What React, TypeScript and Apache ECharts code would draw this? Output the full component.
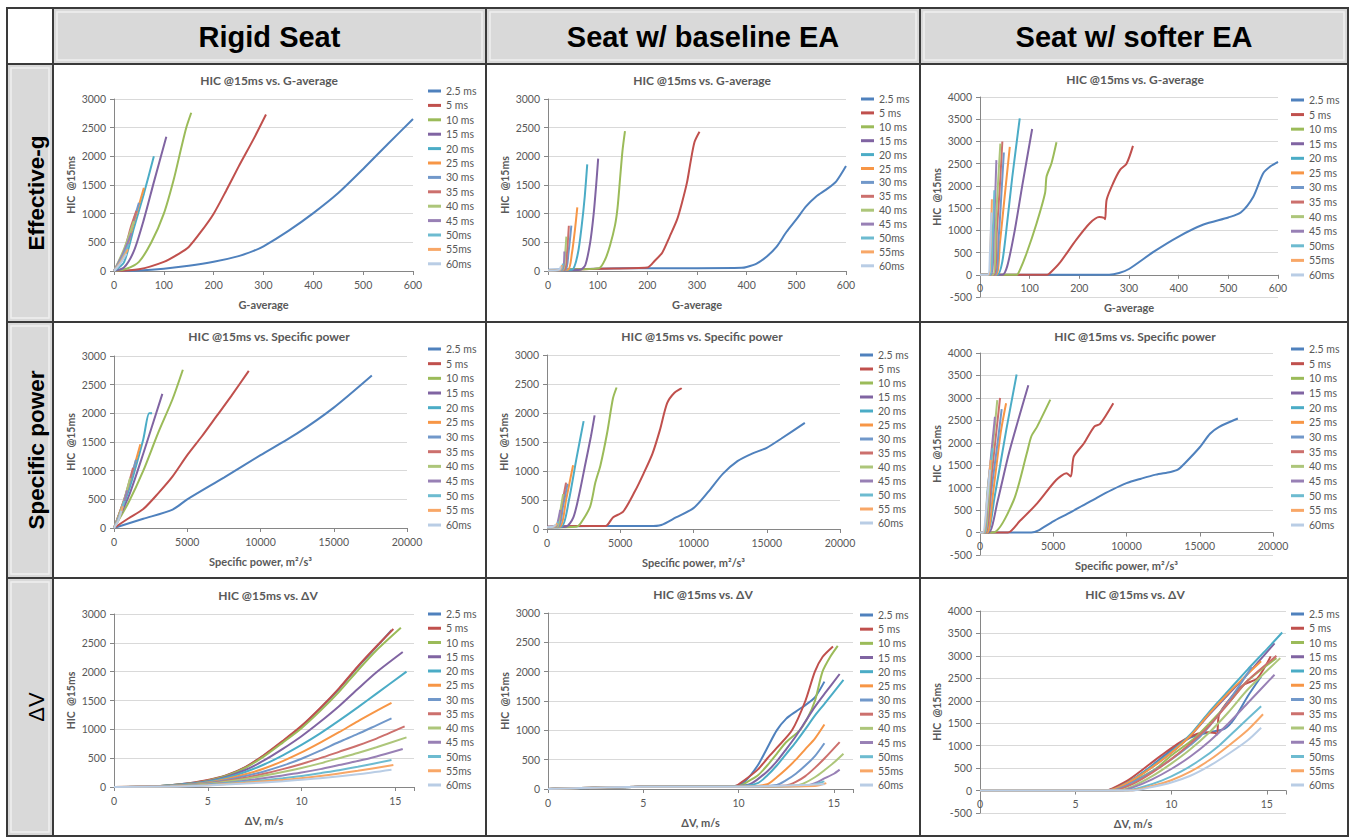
import React, { useEffect, useRef } from 'react';
import * as echarts from 'echarts';

// ---------- text / categories ----------
const columnHeaders = ['Rigid Seat', 'Seat w/ baseline EA', 'Seat w/ softer EA'];
const rowHeaders = ['Effective-g', 'Specific power', 'ΔV'];
const chartTitles = ['HIC @15ms vs. G-average', 'HIC @15ms vs. Specific power', 'HIC @15ms vs. ΔV'];
const xAxisTitles = ['G-average', 'Specific power, m²/s³', 'ΔV, m/s'];
const yAxisTitle = 'HIC  @15ms';
const durations = ['2.5 ms', '5 ms', '10 ms', '15 ms', '20 ms', '25 ms', '30 ms', '35 ms', '40 ms', '45 ms', '50ms', '55ms', '60ms'];
const durationsSP = ['2.5 ms', '5 ms', '10 ms', '15 ms', '20 ms', '25 ms', '30 ms', '35 ms', '40 ms', '45 ms', '50 ms', '55 ms', '60ms'];
const colors = ['#4F81BD', '#C0504D', '#9BBB59', '#8064A2', '#4BACC6', '#F79646', '#7198CA', '#CC706D', '#ADC67A', '#9880B5', '#6DBBD0', '#F8A767', '#B9CDE5'];

// x-axis scales per row, y-axis scales per column
const xMaxByRow = [600, 20000, 16];
const xIntervalByRow = [100, 5000, 5];
const yMinByCol = [0, 0, -500];
const yMaxByCol = [3000, 3000, 4000];
const yInterval = 500;

// ---------- data: [x, HIC] per pulse duration ----------
const rigidG = [
  [[0, 0], [50, 10], [100, 40], [150, 90], [200, 160], [250, 260], [280, 350], [300, 430], [350, 700], [400, 1010], [450, 1360], [500, 1780], [550, 2220], [600, 2650]],
  [[0, 0], [50, 30], [100, 160], [130, 300], [150, 420], [175, 690], [200, 1000], [225, 1400], [250, 1820], [280, 2300], [305, 2730]],
  [[0, 0], [25, 40], [50, 160], [75, 500], [100, 1000], [120, 1600], [135, 2150], [145, 2500], [155, 2760]],
  [[0, 0], [20, 60], [40, 350], [60, 900], [80, 1550], [105, 2340]],
  [[0, 0], [20, 150], [40, 750], [60, 1350], [80, 2000]],
  [[0, 0], [20, 250], [40, 850], [60, 1450]],
  [[0, 0], [20, 300], [35, 750], [50, 1190]],
  [[0, 0], [20, 350], [35, 800], [45, 1050]],
  [[0, 0], [20, 380], [40, 870]],
  [[0, 0], [18, 300], [35, 660]],
  [[0, 0], [15, 200], [30, 470]],
  [[0, 0], [14, 170], [28, 380]],
  [[0, 0], [12, 120], [25, 300]],
];
const rigidSP = [
  [[0, 0], [2000, 160], [4000, 320], [5000, 500], [7500, 880], [10000, 1270], [12500, 1650], [15000, 2100], [17600, 2660]],
  [[0, 0], [1000, 170], [2000, 330], [3000, 600], [4000, 900], [5000, 1270], [6000, 1600], [7000, 1950], [8000, 2300], [9200, 2740]],
  [[0, 0], [1000, 450], [2000, 1000], [3000, 1650], [4000, 2250], [4700, 2760]],
  [[0, 0], [1000, 550], [2000, 1300], [3300, 2340]],
  [[0, 0], [1000, 650], [2000, 1550], [2400, 2000], [2600, 2000]],
  [[0, 0], [900, 650], [1800, 1460]],
  [[0, 0], [800, 560], [1500, 1190]],
  [[0, 0], [700, 500], [1300, 1050]],
  [[0, 0], [600, 410], [1100, 870]],
  [[0, 0], [500, 300], [900, 660]],
  [[0, 0], [400, 220], [700, 470]],
  [[0, 0], [350, 170], [600, 380]],
  [[0, 0], [300, 130], [500, 300]],
];
const rigidDV = [
  [[0, 0], [2, 10], [3, 30], [4, 65], [5, 115], [6, 200], [7, 340], [8, 550], [9, 790], [10, 1050], [11, 1360], [12, 1700], [13, 2080], [14, 2430], [14.8, 2720]],
  [[0, 0], [2, 10], [3, 30], [4, 65], [5, 120], [6, 205], [7, 345], [8, 555], [9, 800], [10, 1060], [11, 1370], [12, 1710], [13, 2090], [14, 2440], [14.9, 2740]],
  [[0, 0], [2, 10], [3, 30], [4, 60], [5, 110], [6, 195], [7, 330], [8, 530], [9, 770], [10, 1020], [11, 1320], [12, 1650], [13, 2020], [14, 2370], [15.3, 2760]],
  [[0, 0], [2, 10], [3, 28], [4, 55], [5, 100], [6, 180], [7, 295], [8, 460], [9, 660], [10, 880], [11, 1130], [12, 1400], [13, 1700], [14, 1990], [15.4, 2340]],
  [[0, 0], [2, 8], [3, 25], [4, 50], [5, 90], [6, 160], [7, 260], [8, 390], [9, 550], [10, 730], [11, 930], [12, 1150], [13, 1380], [14, 1620], [15.6, 2000]],
  [[0, 0], [3, 20], [5, 80], [6, 140], [7, 220], [8, 320], [9, 450], [10, 600], [11, 770], [12, 950], [13, 1140], [14, 1320], [14.8, 1460]],
  [[0, 0], [3, 18], [5, 70], [6, 120], [7, 190], [8, 270], [9, 370], [10, 490], [11, 630], [12, 780], [13, 920], [14, 1070], [14.8, 1190]],
  [[0, 0], [3, 15], [5, 60], [7, 160], [8, 230], [9, 310], [10, 400], [11, 500], [12, 610], [13, 720], [14, 840], [15.5, 1050]],
  [[0, 0], [3, 13], [5, 55], [7, 140], [9, 260], [10, 330], [11, 410], [12, 500], [13, 590], [14, 690], [15.6, 860]],
  [[0, 0], [3, 12], [5, 45], [7, 110], [9, 200], [10, 250], [11, 310], [12, 380], [13, 450], [14, 530], [15.4, 660]],
  [[0, 0], [3, 10], [5, 38], [7, 90], [9, 150], [10, 190], [11, 240], [12, 290], [13, 350], [14.8, 470]],
  [[0, 0], [3, 8], [5, 32], [7, 75], [9, 120], [11, 190], [13, 280], [14.9, 380]],
  [[0, 0], [3, 7], [5, 28], [7, 60], [9, 100], [11, 150], [13, 220], [14.8, 300]],
];
const baseG = [
  [[0, 20], [100, 40], [200, 50], [300, 50], [390, 55], [400, 70], [420, 130], [440, 250], [460, 420], [480, 680], [500, 900], [520, 1130], [540, 1300], [560, 1420], [580, 1560], [600, 1830]],
  [[0, 10], [100, 40], [200, 60], [215, 180], [230, 320], [245, 600], [260, 900], [270, 1200], [280, 1550], [287, 1900], [295, 2250], [305, 2430]],
  [[0, 10], [60, 30], [103, 50], [115, 200], [125, 450], [135, 800], [140, 1100], [145, 1600], [150, 2100], [155, 2440]],
  [[0, 10], [65, 20], [75, 100], [85, 500], [92, 1000], [97, 1500], [101, 1960]],
  [[0, 10], [48, 20], [60, 300], [68, 800], [74, 1300], [79, 1860]],
  [[0, 10], [40, 20], [48, 300], [54, 700], [59, 1110]],
  [[0, 10], [35, 20], [41, 300], [47, 790]],
  [[0, 10], [33, 20], [38, 300], [42, 790]],
  [[0, 10], [30, 20], [34, 250], [37, 600]],
  [[0, 10], [28, 20], [33, 340]],
  [[0, 10], [26, 20], [30, 130]],
  [[0, 10], [24, 20], [28, 100]],
  [[0, 10], [22, 20], [26, 80]],
];
const baseSP = [
  [[0, 40], [3000, 50], [7000, 50], [7800, 70], [8800, 200], [10000, 360], [11000, 640], [12000, 950], [13000, 1170], [14000, 1300], [15000, 1400], [16000, 1560], [17600, 1830]],
  [[0, 40], [2000, 50], [4000, 50], [4500, 200], [5200, 300], [6000, 650], [6600, 960], [7200, 1300], [7700, 1700], [8200, 2170], [8700, 2350], [9200, 2430]],
  [[0, 30], [2000, 40], [2300, 100], [2950, 390], [3300, 800], [3650, 1100], [4100, 1650], [4500, 2250], [4750, 2440]],
  [[0, 30], [1300, 40], [1800, 200], [2200, 600], [2600, 1100], [3000, 1600], [3250, 1960]],
  [[0, 30], [1000, 40], [1500, 500], [2000, 1200], [2500, 1860]],
  [[0, 30], [900, 40], [1300, 500], [1780, 1100]],
  [[0, 30], [800, 40], [1100, 400], [1400, 780]],
  [[0, 30], [700, 40], [1000, 400], [1300, 800]],
  [[0, 30], [700, 40], [900, 300], [1100, 600]],
  [[0, 30], [600, 40], [800, 200], [900, 330]],
  [[0, 30], [500, 40], [800, 130]],
  [[0, 30], [500, 40], [700, 100]],
  [[0, 30], [400, 40], [600, 80]],
];
const baseDV = [
  [[0, 0], [5, 40], [9.8, 50], [10.3, 120], [11, 400], [11.5, 700], [12, 1000], [12.5, 1200], [13, 1320], [13.5, 1430], [14, 1560], [14.5, 1830]],
  [[0, 0], [5, 40], [9.8, 50], [10.3, 150], [11, 330], [11.5, 520], [12, 700], [12.8, 1000], [13.5, 1500], [14, 2000], [14.4, 2250], [14.95, 2430]],
  [[0, 0], [5, 40], [10, 50], [10.5, 130], [11, 230], [11.5, 400], [12, 600], [12.5, 800], [13.2, 1000], [13.6, 1200], [14, 1500], [14.4, 2000], [14.8, 2250], [15.2, 2440]],
  [[0, 0], [5, 40], [10, 50], [10.7, 100], [11.5, 300], [12, 470], [12.5, 680], [13, 900], [13.5, 1150], [14, 1400], [14.5, 1620], [15.3, 1960]],
  [[0, 0], [5, 40], [10, 50], [11, 100], [11.5, 230], [12, 400], [12.5, 600], [13, 800], [13.5, 1020], [14, 1250], [14.5, 1450], [15.5, 1860]],
  [[0, 0], [5, 40], [10, 40], [11.5, 80], [12, 200], [12.5, 340], [13, 500], [13.5, 680], [14, 860], [14.5, 1100]],
  [[0, 0], [5, 40], [10, 40], [12, 70], [12.5, 150], [13, 260], [13.5, 400], [14, 560], [14.5, 780]],
  [[0, 0], [5, 40], [10, 40], [12.5, 60], [13, 120], [13.5, 220], [14, 360], [14.5, 520], [15.3, 800]],
  [[0, 0], [5, 40], [10, 40], [13, 60], [13.5, 110], [14, 200], [14.5, 320], [15, 450], [15.5, 600]],
  [[0, 0], [5, 40], [10, 40], [13.5, 60], [14, 100], [14.5, 180], [15, 260], [15.3, 330]],
  [[0, 0], [5, 40], [10, 40], [13.5, 50], [14.5, 130]],
  [[0, 0], [5, 40], [10, 40], [14, 50], [14.6, 100]],
  [[0, 0], [5, 40], [10, 40], [14.5, 80]],
];
const softG = [
  [[0, 0], [100, 0], [200, 0], [260, 0], [280, 40], [300, 130], [350, 520], [400, 860], [450, 1130], [500, 1290], [525, 1400], [550, 1750], [570, 2280], [585, 2440], [600, 2540]],
  [[0, 0], [135, 0], [141, 40], [160, 260], [194, 790], [221, 1160], [240, 1300], [250, 1280], [252, 1250], [255, 1690], [268, 2060], [282, 2360], [295, 2500], [308, 2900]],
  [[0, 0], [74, 0], [80, 100], [94, 490], [114, 1160], [131, 1840], [134, 2210], [144, 2510], [154, 2980]],
  [[0, 0], [45, 0], [55, 200], [70, 1000], [85, 2000], [105, 3280]],
  [[0, 0], [35, 0], [45, 300], [55, 1200], [65, 2200], [80, 3520]],
  [[0, 0], [32, 0], [40, 700], [50, 1800], [60, 2880]],
  [[0, 0], [30, 0], [38, 900], [43, 1800], [48, 2750]],
  [[0, 0], [28, 0], [34, 1000], [40, 2000], [45, 3000]],
  [[0, 0], [26, 0], [32, 1200], [37, 2200], [41, 2950]],
  [[0, 0], [22, 0], [28, 1000], [33, 2580]],
  [[0, 0], [20, 0], [25, 800], [29, 1900]],
  [[0, 0], [18, 0], [21, 600], [24, 1700]],
  [[0, 0], [16, 0], [20, 500], [23, 1400]],
];
const softSP = [
  [[0, 0], [3500, 0], [4000, 50], [5000, 250], [6000, 420], [7000, 600], [8000, 780], [9000, 950], [10000, 1100], [11000, 1200], [12000, 1290], [13000, 1350], [13500, 1400], [14000, 1550], [15000, 1900], [15700, 2200], [16300, 2350], [17600, 2540]],
  [[0, 0], [1900, 0], [2700, 250], [3900, 650], [5200, 1170], [5900, 1320], [6200, 1250], [6400, 1690], [7100, 1990], [7800, 2360], [8200, 2420], [9100, 2880]],
  [[0, 0], [900, 0], [2300, 720], [3200, 1770], [3500, 2140], [3900, 2360], [4800, 2960]],
  [[0, 0], [600, 0], [1200, 700], [2000, 1800], [3300, 3280]],
  [[0, 0], [500, 0], [1000, 800], [1800, 2300], [2500, 3520]],
  [[0, 0], [500, 0], [900, 900], [1400, 2200], [1780, 2880]],
  [[0, 0], [400, 0], [800, 1000], [1200, 2000], [1480, 2750]],
  [[0, 0], [400, 0], [800, 1300], [1370, 3000]],
  [[0, 0], [350, 0], [700, 1300], [1180, 2950]],
  [[0, 0], [300, 0], [600, 1200], [1020, 2580]],
  [[0, 0], [300, 0], [500, 900], [860, 1880]],
  [[0, 0], [250, 0], [500, 800], [730, 1620]],
  [[0, 0], [200, 0], [450, 600], [680, 1400]],
];
const softDV = [
  [[0, 0], [6.5, 0], [7, 40], [8, 250], [9, 560], [10, 900], [11, 1180], [12, 1300], [12.8, 1380], [13.3, 1600], [14, 2100], [14.7, 2540]],
  [[0, 0], [6.6, 0], [6.9, 40], [7.85, 260], [9.5, 790], [10.8, 1160], [11.8, 1300], [12.3, 1280], [12.4, 1250], [12.5, 1690], [13.1, 2060], [13.8, 2360], [14.5, 2500], [15.2, 2990]],
  [[0, 0], [6.8, 0], [7.3, 40], [8, 200], [9.2, 490], [10, 780], [11.2, 1160], [12, 1500], [13, 1950], [14, 2450], [15.5, 2950]],
  [[0, 0], [6.6, 0], [7.2, 50], [8, 240], [9, 520], [10, 840], [11, 1220], [12, 1700], [13, 2150], [14, 2600], [15.4, 3280]],
  [[0, 0], [6.5, 0], [7, 30], [8, 250], [9, 540], [10, 860], [11, 1250], [12, 1760], [13, 2230], [14, 2700], [15, 3150], [15.8, 3520]],
  [[0, 0], [6.5, 0], [7, 30], [8, 240], [9, 520], [10, 840], [11, 1220], [12, 1720], [13, 2180], [14, 2600], [14.7, 2880]],
  [[0, 0], [6.8, 0], [7.5, 80], [8.5, 300], [9.5, 550], [10.5, 850], [11.5, 1200], [12.5, 1700], [13.5, 2300], [14.2, 2750]],
  [[0, 0], [7, 0], [8, 150], [9, 400], [10, 700], [11, 1050], [12, 1450], [13, 1950], [14, 2450], [15.5, 3000]],
  [[0, 0], [7.2, 0], [8, 100], [9, 320], [10, 600], [11, 920], [12, 1300], [13, 1750], [14, 2250], [15.7, 2950]],
  [[0, 0], [7.4, 0], [8, 70], [9, 250], [10, 480], [11, 760], [12, 1100], [13, 1500], [14, 1950], [15.4, 2580]],
  [[0, 0], [7.6, 0], [8.5, 80], [9.5, 220], [10.5, 420], [11.5, 680], [12.5, 1000], [13.5, 1400], [14.7, 1880]],
  [[0, 0], [7.8, 0], [9, 100], [10, 230], [11, 420], [12, 680], [13, 1000], [14, 1350], [14.8, 1700]],
  [[0, 0], [8, 0], [9, 80], [10, 180], [11, 330], [12, 550], [13, 820], [14, 1120], [14.7, 1400]],
];

// ---------- layout (positions in page pixels) ----------
const panels = [
  { col: 0, row: 0, data: rigidG, grid: [114, 99, 299, 172], legend: [428, 91, 14.4], title: [269, 80] },
  { col: 0, row: 1, data: rigidSP, grid: [114, 356, 293, 172], legend: [428, 349, 14.67], title: [269, 336] },
  { col: 0, row: 2, data: rigidDV, grid: [114, 614, 300, 173], legend: [428, 614, 14.25], title: [268, 595] },
  { col: 1, row: 0, data: baseG, grid: [548, 99, 298, 172], legend: [861, 99, 13.9], title: [702, 80] },
  { col: 1, row: 1, data: baseSP, grid: [547, 355, 293, 174], legend: [860, 355, 14], title: [702, 336] },
  { col: 1, row: 2, data: baseDV, grid: [548, 613, 305, 176], legend: [860, 615, 14.17], title: [703, 594] },
  { col: 2, row: 0, data: softG, grid: [980, 97, 298, 200], legend: [1291, 100, 14.58], title: [1135, 79] },
  { col: 2, row: 1, data: softSP, grid: [980, 353, 293, 202], legend: [1291, 349, 14.67], title: [1135, 336] },
  { col: 2, row: 2, data: softDV, grid: [980, 611, 306, 202], legend: [1291, 614, 14.25], title: [1135, 594] },
];

const FONT = 'Lato, "Open Sans", sans-serif';
const HEAD_FONT = '"Liberation Sans", Arial, sans-serif';
const LABEL_COLOR = '#595959';
const BORDER = '#3a3a3a';

function buildOption() {
  const LH = 13;
  const colX = [7, 53, 486, 920, 1348];
  const rowY = [8, 64, 322, 578, 836];
  const elements: any[] = [];
  // gray header row and left column
  for (let c = 1; c <= 3; c++) {
    elements.push({ type: 'rect', silent: true, z: -10, shape: { x: colX[c], y: rowY[0], width: colX[c + 1] - colX[c], height: rowY[1] - rowY[0] }, style: { fill: '#d9d9d9' } });
    elements.push({ type: 'rect', silent: true, z: -9, shape: { x: colX[c] + 4, y: rowY[0] + 4, width: colX[c + 1] - colX[c] - 8, height: rowY[1] - rowY[0] - 8 }, style: { fill: 'none', stroke: '#efefef', lineWidth: 1.5 } });
  }
  for (let r = 1; r <= 3; r++) {
    elements.push({ type: 'rect', silent: true, z: -10, shape: { x: colX[0], y: rowY[r], width: colX[1] - colX[0], height: rowY[r + 1] - rowY[r] }, style: { fill: '#d9d9d9' } });
    elements.push({ type: 'rect', silent: true, z: -9, shape: { x: colX[0] + 4, y: rowY[r] + 4, width: colX[1] - colX[0] - 8, height: rowY[r + 1] - rowY[r] - 8 }, style: { fill: 'none', stroke: '#efefef', lineWidth: 1.5 } });
  }
  // borders
  elements.push({ type: 'rect', silent: true, z: 50, shape: { x: colX[0], y: rowY[0], width: colX[4] - colX[0], height: rowY[4] - rowY[0] }, style: { fill: 'none', stroke: BORDER, lineWidth: 2 } });
  for (let c = 1; c <= 3; c++) {
    elements.push({ type: 'line', silent: true, z: 50, shape: { x1: colX[c], y1: rowY[0], x2: colX[c], y2: rowY[4] }, style: { stroke: BORDER, lineWidth: 2 } });
  }
  for (let r = 1; r <= 3; r++) {
    elements.push({ type: 'line', silent: true, z: 50, shape: { x1: colX[0], y1: rowY[r], x2: colX[4], y2: rowY[r] }, style: { stroke: BORDER, lineWidth: 2 } });
  }
  // column headers
  columnHeaders.forEach((t, c) => {
    elements.push({
      type: 'text', silent: true, z: 60, x: (colX[c + 1] + colX[c + 2]) / 2, y: (rowY[0] + rowY[1]) / 2 + 1,
      style: { text: t, fill: '#000', fontSize: 29, fontWeight: 'bold', fontFamily: HEAD_FONT, align: 'center', verticalAlign: 'middle', textAlign: 'center', textVerticalAlign: 'middle' },
    });
  });
  // row headers (rotated)
  rowHeaders.forEach((t, r) => {
    const isDV = r === 2;
    elements.push({
      type: 'text', silent: true, z: 60, x: 36, y: (rowY[r + 1] + rowY[r + 2]) / 2, rotation: Math.PI / 2,
      style: { text: t, fill: '#000', fontSize: isDV ? 22 : 22.5, fontWeight: isDV ? 'normal' : 'bold', fontFamily: HEAD_FONT, align: 'center', verticalAlign: 'middle', textAlign: 'center', textVerticalAlign: 'middle' },
    });
  });
  // chart titles
  panels.forEach((p) => {
    elements.push({
      type: 'text', silent: true, z: 60, x: p.title[0], y: p.title[1],
      style: { text: chartTitles[p.row], fill: LABEL_COLOR, fontSize: 12, fontWeight: 'bold', fontFamily: FONT, align: 'center', verticalAlign: 'middle', textAlign: 'center', textVerticalAlign: 'middle' },
    });
  });

  const option: any = {
    animation: false,
    textStyle: { fontFamily: FONT },
    grid: panels.map((p) => ({ left: p.grid[0], top: p.grid[1], width: p.grid[2], height: p.grid[3], containLabel: false })),
    xAxis: panels.map((p, i) => {
      const yMin = yMinByCol[p.col];
      const yMax = yMaxByCol[p.col];
      // the horizontal axis crosses the vertical one at HIC = 0
      const lift = yMin < 0 ? (p.grid[3] * -yMin) / (yMax - yMin) : 0;
      return {
        type: 'value', gridIndex: i, min: 0, max: xMaxByRow[p.row], interval: xIntervalByRow[p.row],
        offset: -lift,
        name: xAxisTitles[p.row], nameLocation: 'middle', nameGap: p.col === 2 ? 27 : 28,
        nameTextStyle: { fontFamily: FONT, fontWeight: 'bold', fontSize: 11, color: LABEL_COLOR },
        splitLine: { show: false },
        axisLine: { onZero: false, lineStyle: { color: '#868686', width: 1 } },
        axisTick: { show: true, length: 4, lineStyle: { color: '#868686' } },
        axisLabel: {
          fontSize: 10.5, color: LABEL_COLOR, margin: 8, fontFamily: FONT,
          formatter: (v: number) => (v % xIntervalByRow[p.row] === 0 ? String(v) : ''),
        },
      };
    }),
    yAxis: panels.map((p, i) => ({
      type: 'value', gridIndex: i, min: yMinByCol[p.col], max: yMaxByCol[p.col], interval: yInterval,
      name: yAxisTitle, nameLocation: 'middle', nameRotate: 90, nameGap: 38,
      nameTextStyle: { fontFamily: FONT, fontWeight: 'bold', fontSize: 10.5, color: LABEL_COLOR },
      splitLine: { show: true, lineStyle: { color: '#d9d9d9', width: 1 } },
      axisLine: { show: true, onZero: false, lineStyle: { color: '#868686', width: 1 } },
      axisTick: { show: true, length: 4, lineStyle: { color: '#868686' } },
      axisLabel: { fontSize: 10.5, color: LABEL_COLOR, margin: 8, fontFamily: FONT, formatter: (v: number) => String(v) },
    })),
    legend: panels.map((p) => ({
      orient: 'vertical', left: p.legend[0], top: p.legend[1] - LH / 2, padding: 0,
      itemWidth: 13, itemHeight: 3, itemGap: p.legend[2] - LH, icon: 'rect', selectedMode: false,
      textStyle: { fontSize: 10.5, color: LABEL_COLOR, fontFamily: FONT, lineHeight: LH },
      data: (p.row === 1 ? durationsSP : durations).slice(),
    })),
    series: panels.flatMap((p, i) =>
      p.data.map((pts, k) => ({
        type: 'line', name: (p.row === 1 ? durationsSP : durations)[k], xAxisIndex: i, yAxisIndex: i,
        data: pts, showSymbol: false, symbol: 'none', smooth: 0.25, silent: true,
        lineStyle: { width: 2, color: colors[k] }, itemStyle: { color: colors[k] },
        emphasis: { disabled: true },
      })),
    ),
    graphic: { elements },
  };
  return option;
}

export default function App() {
  const ref = useRef<HTMLDivElement>(null);
  useEffect(() => {
    if (!ref.current) return;
    const chart = echarts.init(ref.current, undefined, { renderer: 'svg' });
    chart.setOption(buildOption());
    return () => chart.dispose();
  }, []);
  return (
    <div
      ref={ref}
      style={{ position: 'absolute', left: 0, top: 0, width: 1353, height: 838, background: '#fff' }}
    />
  );
}
